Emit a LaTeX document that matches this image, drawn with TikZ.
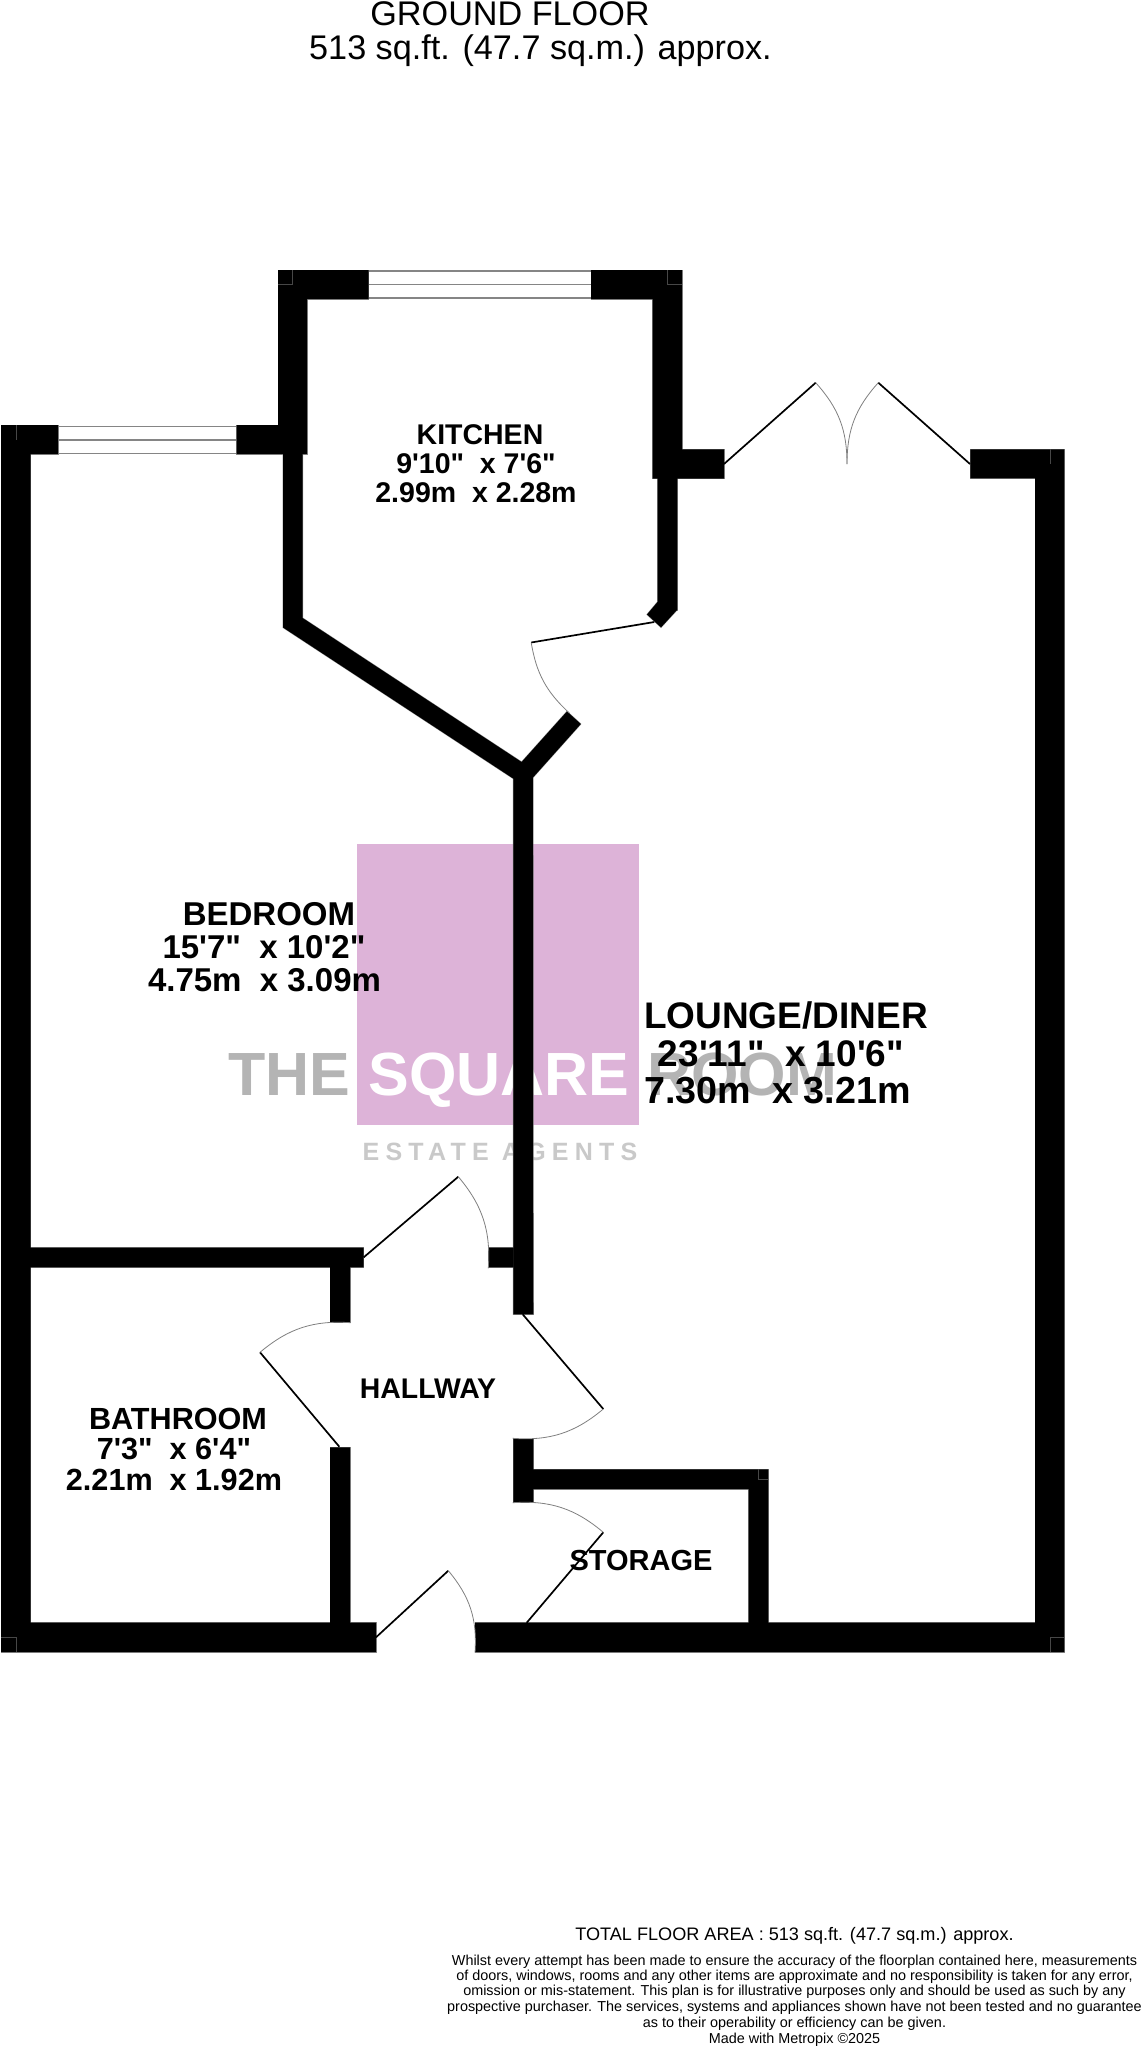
\documentclass[tikz,border=0pt]{standalone}
\usepackage{fontspec}
\setmainfont{Liberation Sans}[Ligatures=TeXOff]
\newfontfamily\spacedfont{Liberation Sans}[LetterSpace=25,Ligatures=TeXOff]
\newcommand{\fsz}[1]{\fontsize{#1}{#1}\selectfont}
\definecolor{logopink}{HTML}{DDB3D8}
\definecolor{logogray}{HTML}{B4B4B4}
\definecolor{logograyb}{HTML}{C9C9C9}
\tikzset{
  x=1pt,y=-1pt,
  every node/.style={inner sep=0pt,outer sep=0pt,anchor=base,align=center},
  roomtext/.style={font=\bfseries\fsz{#1}},
  plaintext/.style={font=\fsz{#1}},
  logotext/.style={font=\bfseries\fsz{61}},
  edgeline/.style={draw=black!45,line width=0.9pt},
  winline/.style={draw=black!48,line width=1.4pt},
  leaf/.style={draw=black,line width=1.7pt},
  swing/.style={draw=black!50,line width=0.8pt},
  cornermark/.style={draw=black!72,line width=0.4pt},
}
\def\wallrects{
  (1,425) rectangle (30.5,1652)
  (1,425) rectangle (58,454)
  (236.5,425) rectangle (307,454)
  (278,270) rectangle (307,454)
  (278,270) rectangle (368.7,299)
  (591,270) rectangle (682,299)
  (652.5,270) rectangle (682,478.5)
  (652.5,449.3) rectangle (724,478.5)
  (657.5,478) rectangle (677.3,610)
  (30,1247.7) rectangle (363.7,1267.3)
  (330,1247.7) rectangle (350,1322.7)
  (488.3,1247.7) rectangle (513.5,1267.3)
  (513.3,1439) rectangle (533.3,1502.7)
  (533,1469.3) rectangle (768.3,1489)
  (748.7,1469.3) rectangle (768.3,1640)
  (475,1622.7) rectangle (1064.3,1652)
  (1035,449.3) rectangle (1064.3,1652)
  (970.3,449.3) rectangle (1064.3,478.3)
  (1,1622.7) rectangle (376,1652)
  (330,1447.3) rectangle (350,1640)
}
\def\wallpolya{(283,454) -- (302.6,454) -- (302.6,618) -- (521.6,762) -- (567,711.4) -- (580.8,724) -- (533,777.5) -- (533.3,1314.3) -- (513.3,1314.3) -- (513.3,778.6) -- (283,627.5) -- cycle}
\def\wallpolyb{(657.5,602) -- (647,614.5) -- (661,627.4) -- (677,610) -- cycle}
\begin{document}
\begin{tikzpicture}
\useasboundingbox (0,0) rectangle (1142,2048);
\fill[white] (0,0) rectangle (1142,2048);
% logo
\fill[logopink] (356.7,844.3) rectangle (639,1125);
\node[logotext,text=logogray] (logothe) at (289,1095) {THE};
\node[logotext,text=white] (logosquare) at (499,1095) {SQUARE};
\node[logotext,text=logogray] (logoroom) at (742,1095) {ROOM};
\node[font=\spacedfont\bfseries\fsz{25},text=logograyb] (logoagents) at (500,1160) {ESTATE AGENTS};
% windows
\foreach \yy in {271,284.6,298} {\draw[winline] (368.7,\yy) -- (591,\yy);}
\foreach \yy in {426.4,440,453.6} {\draw[winline] (58,\yy) -- (236.5,\yy);}
% walls
\draw[edgeline] \wallrects;
\draw[edgeline] \wallpolya;
\draw[edgeline] \wallpolyb;
\fill[black] \wallrects;
\fill[black] \wallpolya;
\fill[black] \wallpolyb;
% faint corner marks
\draw[cornermark] (278,284.6) -- (292.5,284.6) -- (292.5,270);
\draw[cornermark] (667,270) -- (667,284.6) -- (682,284.6);
\draw[cornermark] (16,425) -- (16,440);
\draw[cornermark] (1,1637) -- (16,1637) -- (16,1652);
\draw[cornermark] (1049.7,1652) -- (1049.7,1637) -- (1064.3,1637);
\draw[cornermark] (758.5,1469.3) -- (758.5,1479.5) -- (768.3,1479.5);
\draw[cornermark] (1049.7,449.3) -- (1049.7,464);
% doors: leaves and swings
\coordinate (kh) at (654.3,622); \coordinate (ke) at (531.2,642.5); \coordinate (ka) at (569.3,713);
\draw[leaf] (kh) -- (ke);
\draw[swing] (ke) to[bend right=19] (ka);
\coordinate (fh) at (724,464); \coordinate (fe) at (815.7,382.7); \coordinate (fa) at (847,464);
\draw[leaf] (fh) -- (fe);
\draw[swing] (fe) to[bend left=21] (fa);
\coordinate (gh) at (970,464); \coordinate (ge) at (878.3,382.7);
\draw[leaf] (gh) -- (ge);
\draw[swing] (ge) to[bend right=21] (fa);
\coordinate (bh) at (363.7,1257.3); \coordinate (be) at (458.3,1176.7); \coordinate (ba) at (488.3,1268.3);
\draw[leaf] (bh) -- (be);
\draw[swing] (be) to[bend left=22] (ba);
\coordinate (lh) at (522.7,1314.3); \coordinate (le) at (603.3,1409); \coordinate (la) at (512.7,1438.3);
\draw[leaf] (lh) -- (le);
\draw[swing] (le) to[bend left=22] (la);
\coordinate (th) at (339.3,1446.7); \coordinate (te) at (260,1352.3); \coordinate (ta) at (350.7,1322.7);
\draw[leaf] (th) -- (te);
\draw[swing] (te) to[bend left=22] (ta);
\coordinate (sh) at (526.7,1622.7); \coordinate (se) at (603.3,1532.3); \coordinate (sa) at (512.7,1502.7);
\draw[leaf] (sh) -- (se);
\draw[swing] (se) to[bend right=22] (sa);
\coordinate (eh) at (376,1637.3); \coordinate (ee) at (448.3,1570.7); \coordinate (ea) at (475,1652.7);
\draw[leaf] (eh) -- (ee);
\draw[swing] (ee) to[bend left=22] (ea);
% room labels
\node[roomtext=28.5] (kita) at (480,444) {KITCHEN};
\node[roomtext=28.5] (kitb) at (476,473) {9'10"\ \ x 7'6"};
\node[roomtext=28.5] (kitc) at (476,502) {2.99m\ \ x 2.28m};
\node[roomtext=33] (beda) at (269,925) {BEDROOM};
\node[roomtext=33] (bedb) at (264,958) {15'7"\ \ x 10'2"};
\node[roomtext=33] (bedc) at (264.5,991) {4.75m\ \ x 3.09m};
\node[roomtext=37] (loua) at (786,1028) {LOUNGE/DINER};
\node[roomtext=37] (loub) at (781,1066) {23'11"\ \ x 10'6"};
\node[roomtext=37.7] (louc) at (777.5,1103) {7.30m\ \ x 3.21m};
\node[roomtext=30.6] (bata) at (178,1429) {BATHROOM};
\node[roomtext=30.6] (batb) at (174,1459) {7'3"\ \ x 6'4"};
\node[roomtext=30.6] (batc) at (174,1490) {2.21m\ \ x 1.92m};
\node[roomtext=28.4] (hall) at (428,1398) {HALLWAY};
\node[roomtext=29] (stor) at (641,1570) {STORAGE};
% header
\node[plaintext=34.2] (heada) at (510,25) {GROUND FLOOR};
\node[plaintext=34.2] (headb) at (540.5,59.3) {513 sq.ft. (47.7 sq.m.) approx.};
% footer
\node[plaintext=18.1] (foota) at (794.5,1940) {TOTAL FLOOR AREA : 513 sq.ft. (47.7 sq.m.) approx.};
\node[plaintext=14.4] (footb) at (794.5,1965) {Whilst every attempt has been made to ensure the accuracy of the floorplan contained here, measurements};
\node[plaintext=14.4] (footc) at (794.5,1980) {of doors, windows, rooms and any other items are approximate and no responsibility is taken for any error,};
\node[plaintext=14.4] (footd) at (794.5,1995.5) {omission or mis-statement. This plan is for illustrative purposes only and should be used as such by any};
\node[plaintext=14.4] (foote) at (794.5,2011.5) {prospective purchaser. The services, systems and appliances shown have not been tested and no guarantee};
\node[plaintext=14.4] (footf) at (794.5,2027.5) {as to their operability or efficiency can be given.};
\node[plaintext=14.4] (footg) at (794.5,2043.3) {Made with Metropix \textcopyright2025};
\end{tikzpicture}
\end{document}
